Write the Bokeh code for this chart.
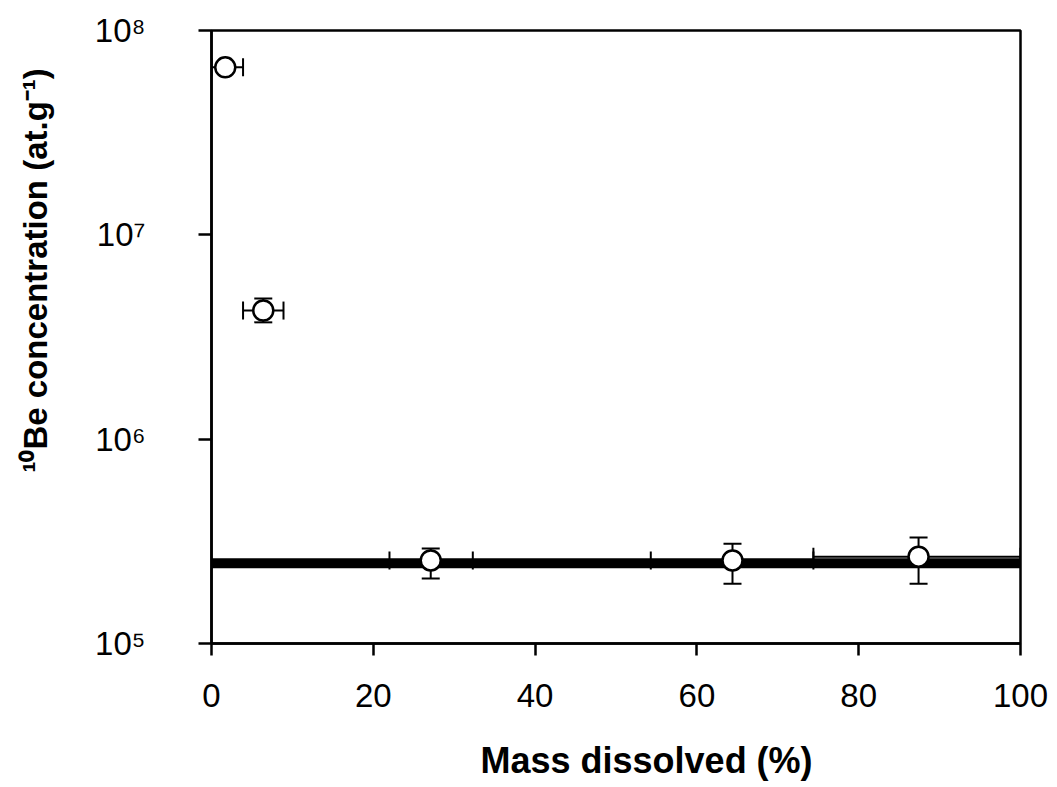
from bokeh.plotting import figure
from bokeh.models import (ColumnDataSource, Whisker, TeeHead, Span, Title,
                          FixedTicker, LinearAxis, LogAxis)
from bokeh.embed import file_html
from bokeh.resources import INLINE

# ---- data ----
mass_dissolved = [1.7, 6.4, 27.1, 64.4, 87.4]          # %
be10_conc      = [6.6e7, 4.26e6, 2.55e5, 2.55e5, 2.66e5]  # at/g
conc_low       = [6.3e7, 3.73e6, 2.08e5, 1.96e5, 1.96e5]
conc_high      = [6.9e7, 4.88e6, 2.92e5, 3.08e5, 3.30e5]
mass_low       = [0.0, 3.9, 22.0, 54.3, 74.4]
mass_high      = [3.9, 8.9, 32.3, 74.4, 100.0]
baseline_conc  = 2.47e5

x_ticks = [0, 20, 40, 60, 80, 100]
y_ticks = [1e5, 1e6, 1e7, 1e8]
y_tick_labels = ["10\u2075", "10\u2076", "10\u2077", "10\u2078"]

x_title = "Mass dissolved (%)"
y_title = "\u00b9\u2070Be concentration (at.g\u207b\u00b9)"

FONT = "Liberation Sans"

src = ColumnDataSource(dict(x=mass_dissolved, y=be10_conc,
                            ylo=conc_low, yhi=conc_high,
                            xlo=mass_low, xhi=mass_high))

p = figure(width=1057, height=787, x_range=(0, 100), y_range=(1e5, 1e8),
           y_axis_type="log", output_backend="svg", toolbar_location=None,
           min_border_left=211, min_border_right=37, min_border_top=30,
           min_border_bottom=144)

p.grid.visible = False
p.outline_line_color = "black"
p.outline_line_width = 2.5
p.background_fill_color = "white"
p.border_fill_color = "white"

# axes
p.xaxis.ticker = FixedTicker(ticks=x_ticks)
p.yaxis.ticker = FixedTicker(ticks=y_ticks, minor_ticks=[])
p.yaxis.major_label_overrides = {t: l for t, l in zip(y_ticks, y_tick_labels)}
for ax in (p.xaxis[0], p.yaxis[0]):
    ax.axis_line_color = "black"
    ax.axis_line_width = 2.5
    ax.major_tick_line_color = "black"
    ax.major_tick_line_width = 2.5
    ax.major_tick_in = 0
    ax.minor_tick_line_color = None
    ax.major_label_text_font = FONT
    ax.major_label_text_font_size = "33px"
    ax.major_label_text_color = "black"
p.xaxis.major_tick_out = 12
p.yaxis.major_tick_out = 13
p.xaxis.major_label_standoff = 28
p.yaxis.major_label_standoff = 53

# invisible spacer axes between the tick labels and the axis titles
x_edge, y_edge = x_ticks[-1], y_ticks[-1]
p.add_layout(LinearAxis(ticker=FixedTicker(ticks=[x_edge]), axis_line_color=None,
                        major_tick_line_color="white", minor_tick_line_color=None,
                        major_tick_out=30, major_tick_in=0, major_label_standoff=0,
                        major_label_overrides={x_edge: ""},
                        major_label_text_font_size="0px"), "below")
p.add_layout(LogAxis(ticker=FixedTicker(ticks=[y_edge]), axis_line_color=None,
                     major_tick_line_color="white", minor_tick_line_color=None,
                     major_tick_out=36, major_tick_in=0, major_label_standoff=0,
                     major_label_overrides={y_edge: ""},
                     major_label_text_font_size="0px"), "left")

# axis titles (as side titles so they can be offset like the reference)
p.add_layout(Title(text=x_title, text_font=FONT, text_font_size="36px",
                   text_font_style="bold", text_color="black", align="left",
                   offset=269, vertical_align="top", standoff=0), "below")
p.add_layout(Title(text=y_title, text_font=FONT, text_font_size="33px",
                   text_font_style="bold", text_color="black", align="left",
                   offset=171, vertical_align="top", standoff=0), "left")

# thick reference line
p.add_layout(Span(location=baseline_conc, dimension="width", line_color="black",
                  line_width=10, level="underlay"))

# error bars
head = dict(size=18, line_width=2, line_color="black")
p.add_layout(Whisker(source=src, base="x", lower="ylo", upper="yhi", dimension="height",
                     line_color="black", line_width=2,
                     lower_head=TeeHead(**head), upper_head=TeeHead(**head),
                     level="underlay"))
p.add_layout(Whisker(source=src, base="y", lower="xlo", upper="xhi", dimension="width",
                     line_color="black", line_width=2,
                     lower_head=TeeHead(**head), upper_head=TeeHead(**head),
                     level="underlay"))

# points
p.scatter("x", "y", source=src, size=20, marker="circle", fill_color="white",
          line_color="black", line_width=2.5)

open("out.html", "w").write(file_html(p, INLINE))
